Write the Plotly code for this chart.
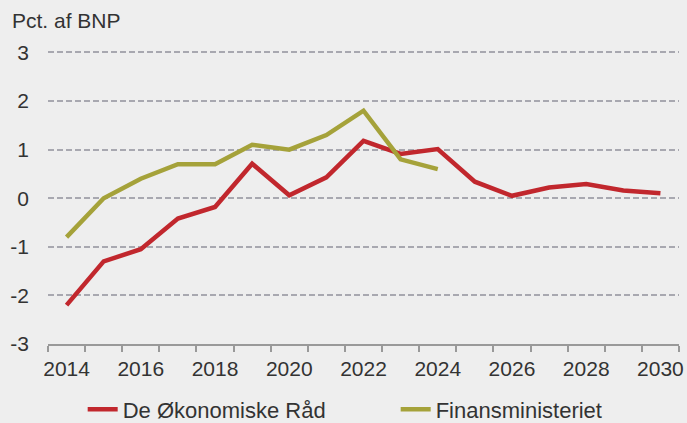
import plotly.graph_objects as go

years = list(range(2014, 2031))
dor_values = [-2.2, -1.3, -1.05, -0.42, -0.18, 0.71, 0.06, 0.43, 1.18, 0.91, 1.01,
              0.34, 0.05, 0.22, 0.29, 0.16, 0.10]
fm_years = list(range(2014, 2025))
fm_values = [-0.8, 0.0, 0.4, 0.7, 0.7, 1.1, 1.0, 1.3, 1.8, 0.8, 0.6]

x_tickvals = list(range(2014, 2031, 2))
x_ticktext = [str(v) for v in x_tickvals]
y_tickvals = [-3, -2, -1, 0, 1, 2, 3]
y_ticktext = ["-3", "-2", "-1", "0", "1", "2", "3"]

BG = "#EEEEEE"
TXT = "#333333"
FONT = "Liberation Sans, Arial, sans-serif"

fig = go.Figure()
fig.add_trace(go.Scatter(x=years, y=dor_values, mode="lines", name="De Økonomiske Råd",
                         line=dict(color="#C1272D", width=4.5)))
fig.add_trace(go.Scatter(x=fm_years, y=fm_values, mode="lines", name="Finansministeriet",
                         line=dict(color="#A5A23A", width=4.5)))

fig.update_layout(
    width=687, height=423,
    margin=dict(l=48, r=8, t=50, b=79, autoexpand=False),
    paper_bgcolor=BG, plot_bgcolor=BG,
    font=dict(family=FONT, size=21, color=TXT),
    showlegend=True,
    legend=dict(orientation="h", xanchor="center", x=0.551, yref="container",
                y=0.032, yanchor="middle", font=dict(size=22, color=TXT),
                entrywidth=268, bgcolor="rgba(0,0,0,0)"),
    xaxis=dict(range=[2013.5, 2030.5], tickmode="array", tickvals=x_tickvals,
               ticktext=x_ticktext, ticks="", showgrid=False, zeroline=False,
               showline=True, linecolor="#999999", linewidth=1.5,
               ticklabelstandoff=5, automargin=False,
               minor=dict(tick0=2013.5, dtick=1, ticks="outside", ticklen=6,
                          tickcolor="#999999", tickwidth=1.5, showgrid=False)),
    yaxis=dict(range=[-3, 3.05], tickmode="array", tickvals=y_tickvals,
               ticktext=y_ticktext, ticks="", showgrid=True,
               gridcolor="#A8A8B0", gridwidth=1.5, griddash="6px,3px",
               zeroline=False, showline=False, ticklabelstandoff=18,
               automargin=False),
    annotations=[dict(text="Pct. af BNP", xref="paper", yref="paper",
                      x=-0.0602, y=1.10, xanchor="left", yanchor="middle",
                      showarrow=False, font=dict(size=21, color=TXT))],
)

fig.write_html("out.html", config={"displayModeBar": False},
               post_script="document.body.style.margin='0';document.body.style.background='#EEEEEE';")
